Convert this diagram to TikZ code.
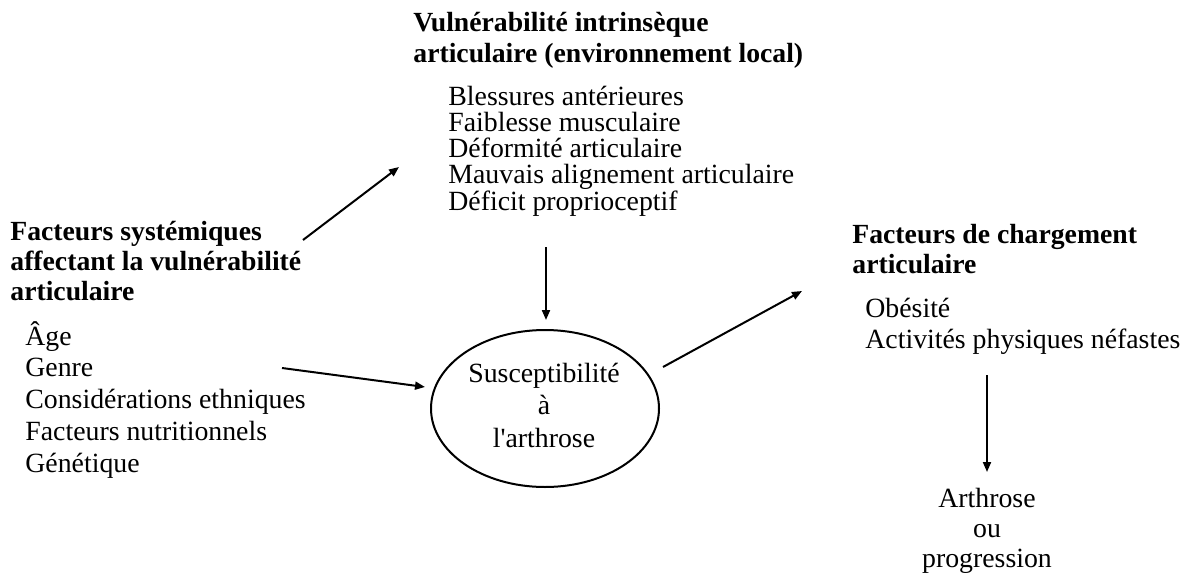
\documentclass[tikz,border=0pt]{standalone}
\usepackage{fontspec}
\setmainfont{Liberation Serif}
\usetikzlibrary{arrows.meta,shapes.geometric}
\begin{document}
\begin{tikzpicture}[x=0.5pt,y=-0.5pt,
  body/.style={font=\fontsize{13.9}{16}\selectfont, inner sep=0pt, anchor=base west},
  head/.style={body, font=\fontsize{13.85}{16}\selectfont\bfseries},
  ctr/.style={body, anchor=base},
  arr/.style={line width=1pt, -{Triangle[length=5pt,width=4pt]}},
  oval/.style={draw, line width=1pt, ellipse, minimum width=114pt, minimum height=78.5pt, inner sep=0pt},
]
\useasboundingbox (0,0) rectangle (1194,578);

% systemic factors (left)
\node[head] (s1) at (10,240) {Facteurs systémiques};
\node[head] (s2) at (10,270) {affectant la vulnérabilité};
\node[head] (s3) at (10,300) {articulaire};
\foreach \t [count=\i] in {Âge, Genre, Considérations ethniques, Facteurs nutritionnels, Génétique}
  \node[body] (sb\i) at (25,{345+31.75*(\i-1)}) {\t};

% intrinsic vulnerability (top)
\node[head] (v1) at (413,32) {Vulnérabilité intrinsèque};
\node[head] (v2) at (413,62) {articulaire (environnement local)};
\foreach \t [count=\i] in {Blessures antérieures, Faiblesse musculaire, Déformité articulaire, Mauvais alignement articulaire, Déficit proprioceptif}
  \node[body] (vb\i) at (448,{105+26.25*(\i-1)}) {\t};

% susceptibility (centre)
\node[oval] (ell) at (545,408.5) {};
\node[ctr] (e1) at (544,382) {Susceptibilité};
\node[ctr] (e2) at (544,414) {à};
\node[ctr] (e3) at (544,447) {l\textquotesingle arthrose};

% joint loading factors (right)
\node[head] (c1) at (852,243) {Facteurs de chargement};
\node[head] (c2) at (852,273) {articulaire};
\node[body] (cb1) at (865,317) {Obésité};
\node[body] (cb2) at (865,348) {Activités physiques néfastes};

% outcome
\node[ctr] (o1) at (987,507) {Arthrose};
\node[ctr] (o2) at (987,537) {ou};
\node[ctr] (o3) at (987,567) {progression};

% connectors
\coordinate (a1s) at (303,240); \coordinate (a1e) at (399,167);
\coordinate (a2s) at (282,368); \coordinate (a2e) at (425,387);
\coordinate (a3s) at (546,247); \coordinate (a3e) at (546,320);
\coordinate (a4s) at (663,367); \coordinate (a4e) at (802,291);
\coordinate (a5s) at (987,375); \coordinate (a5e) at (987,472);
\draw[arr] (a1s) -- (a1e);
\draw[arr] (a2s) -- (a2e);
\draw[arr] (a3s) -- (a3e);
\draw[arr] (a4s) -- (a4e);
\draw[arr] (a5s) -- (a5e);
\end{tikzpicture}
\end{document}
